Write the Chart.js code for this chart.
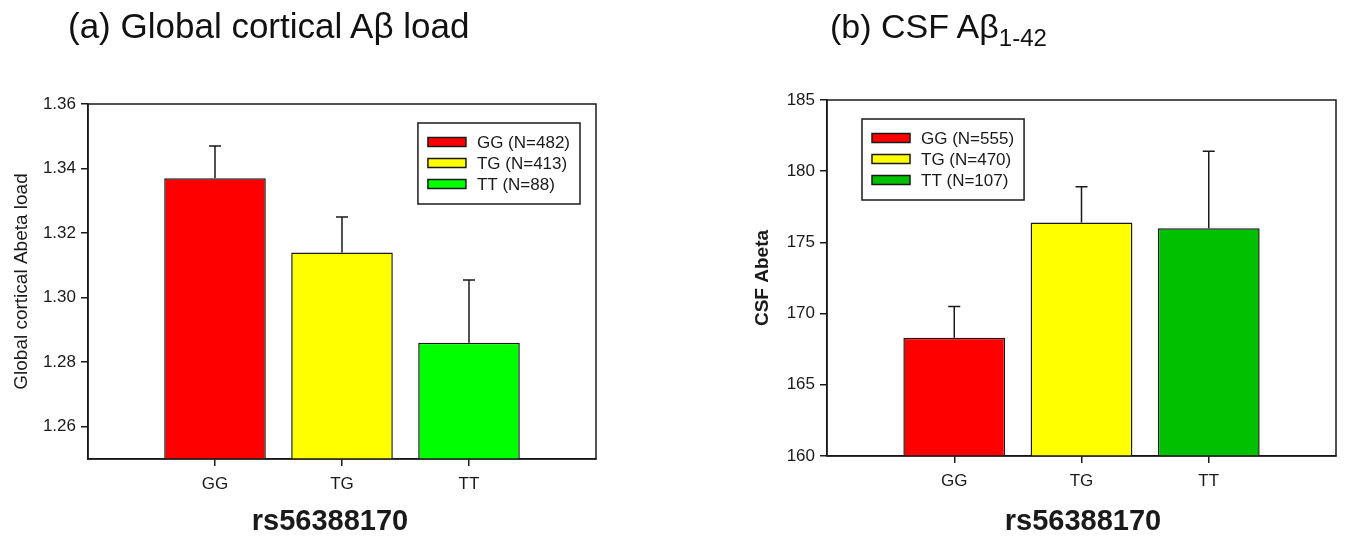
<!DOCTYPE html>
<html><head><meta charset="utf-8">
<script src="https://cdn.jsdelivr.net/npm/chart.js@4.4.0/dist/chart.umd.min.js"></script>
<style>
html,body{margin:0;padding:0;background:#fff;width:1346px;height:538px;overflow:hidden;font-family:"Liberation Sans",Arial,sans-serif;}
#wrapA{position:absolute;left:0;top:0;width:640px;height:538px;}
#wrapB{position:absolute;left:680px;top:0;width:666px;height:538px;}
.ttl{position:absolute;color:#111;white-space:nowrap;line-height:40px;}
#ttlA{left:68px;top:6px;font-size:35px;}
#ttlB{left:830px;top:6px;font-size:34px;}
.ttl sub{font-size:24px;vertical-align:-8px;line-height:0;}
.xt{position:absolute;width:300px;text-align:center;font-weight:bold;font-size:29px;line-height:34px;color:#1a1a1a;top:503px;}
#xtA{left:180px;}
#xtB{left:933px;}
</style></head>
<body>
<div id="wrapA"><canvas id="cA"></canvas></div>
<div id="wrapB"><canvas id="cB"></canvas></div>
<div class="ttl" id="ttlA">(a) Global cortical Aβ load</div>
<div class="ttl" id="ttlB">(b) CSF Aβ<sub>1-42</sub></div>
<div class="xt" id="xtA"></div>
<div class="xt" id="xtB"></div>
<script>
// ---- data ----
const genotypes = ['GG', 'TG', 'TT'];
const xPositions = [1, 2, 3];
const snpName = 'rs56388170';

const nA = [482, 413, 88];
const meanA = [1.337, 1.314, 1.286];
const semA = [0.010, 0.011, 0.0195];
const yTicksA = [1.26, 1.28, 1.30, 1.32, 1.34, 1.36];

const nB = [555, 470, 107];
const meanB = [168.3, 176.4, 176.0];
const semB = [2.2, 2.5, 5.4];
const yTicksB = [160, 165, 170, 175, 180, 185];

const colorsA = ['#ff0000', '#ffff00', '#00ff00'];
const colorsB = ['#ff0000', '#ffff00', '#00c000'];

const INK = '#1a1a1a';
const FONT = '"Liberation Sans", Arial, sans-serif';
Chart.defaults.font.family = FONT;
Chart.defaults.color = INK;

document.getElementById('xtA').textContent = snpName;
document.getElementById('xtB').textContent = snpName;

// ---- plugins ----
const frame = {
  id: 'frame',
  afterDatasetsDraw(chart) {
    const {ctx, chartArea: a} = chart;
    ctx.save();
    ctx.strokeStyle = INK; ctx.lineWidth = 1.5;
    ctx.strokeRect(a.left, a.top, a.right - a.left, a.bottom - a.top);
    ctx.restore();
  }
};

const errorBars = {
  id: 'errorBars',
  afterDatasetsDraw(chart) {
    const {ctx} = chart;
    const ys = chart.scales.y;
    chart.data.datasets.forEach((ds, di) => {
      const meta = chart.getDatasetMeta(di);
      meta.data.forEach((bar, i) => {
        const v = ds.data[i].y + ds.errorPlus[i];
        const yp = ys.getPixelForValue(v);
        ctx.save();
        ctx.strokeStyle = INK; ctx.lineWidth = 1.5;
        ctx.beginPath();
        ctx.moveTo(bar.x, bar.y); ctx.lineTo(bar.x, yp);
        ctx.moveTo(bar.x - 6, yp); ctx.lineTo(bar.x + 6, yp);
        ctx.stroke();
        ctx.restore();
      });
    });
  }
};

const boxLegend = {
  id: 'boxLegend',
  afterDraw(chart, args, o) {
    const {ctx, chartArea: a} = chart;
    const ds = chart.data.datasets[0];
    ctx.save();
    ctx.font = '17px ' + FONT;
    const labels = ds.legendLabels;
    const tw = Math.max(...labels.map(t => ctx.measureText(t).width));
    const w = 10 + 38 + 11 + tw + 10, h = 81;
    const x0 = o.anchor === 'right' ? a.right - o.dx - w : a.left + o.dx;
    const y0 = a.top + o.dy;
    ctx.fillStyle = '#fff';
    ctx.fillRect(x0, y0, w, h);
    ctx.strokeStyle = INK; ctx.lineWidth = 1.5;
    ctx.strokeRect(x0, y0, w, h);
    labels.forEach((t, i) => {
      const cy = y0 + 19 + i * 21;
      ctx.fillStyle = ds.backgroundColor[i];
      ctx.fillRect(x0 + 10, cy - 4.5, 38, 9);
      ctx.strokeRect(x0 + 10, cy - 4.5, 38, 9);
      ctx.fillStyle = INK;
      ctx.textBaseline = 'middle';
      ctx.textAlign = 'left';
      ctx.fillText(t, x0 + 59, cy + 1);
    });
    ctx.restore();
  }
};

function makeChart(id, means, sems, ns, colors, yMin, yMax, yTicks, yTitle, yTitleBold, decimals, pad, yWidth, yTitlePad, legendOpts, xHeight) {
  const data = means.map((m, i) => ({x: xPositions[i], y: m}));
  return new Chart(document.getElementById(id), {
    type: 'bar',
    data: {
      datasets: [{
        data,
        errorPlus: sems,
        legendLabels: genotypes.map((g, i) => g + ' (N=' + ns[i] + ')'),
        backgroundColor: colors,
        borderColor: INK,
        borderWidth: 1.5,
        borderSkipped: false,
        barPercentage: 0.8,
        categoryPercentage: 1.0
      }]
    },
    options: {
      responsive: true,
      maintainAspectRatio: false,
      animation: false,
      devicePixelRatio: 1,
      layout: {padding: pad},
      plugins: {
        legend: {display: false},
        tooltip: {enabled: false},
        boxLegend: legendOpts
      },
      scales: {
        x: {
          type: 'linear', min: 0, max: 4, offset: false,
          afterBuildTicks: s => { s.ticks = xPositions.map(v => ({value: v})); },
          ticks: {
            callback: v => genotypes[xPositions.indexOf(v)],
            font: {size: 17}, color: INK, padding: 8, autoSkip: false, maxRotation: 0
          },
          grid: {display: true, offset: false, drawOnChartArea: false, drawTicks: true, tickLength: 7, color: INK, lineWidth: 1.5},
          border: {display: true, color: INK, width: 1.5},
          afterFit: s => { s.height = xHeight; }
        },
        y: {
          min: yMin, max: yMax,
          afterBuildTicks: s => { s.ticks = yTicks.map(v => ({value: v})); },
          ticks: {font: {size: 17}, color: INK, padding: 5, callback: v => v.toFixed(decimals)},
          grid: {display: true, drawOnChartArea: false, drawTicks: true, tickLength: 7, color: INK, lineWidth: 1.5},
          border: {display: true, color: INK, width: 1.5},
          title: {display: true, text: yTitle, font: {size: 19, weight: yTitleBold ? 'bold' : 'normal'}, color: INK, padding: {top: yTitlePad, bottom: 0}},
          afterFit: s => { s.width = yWidth; }
        }
      }
    },
    plugins: [errorBars, frame, boxLegend]
  });
}

makeChart('cA', meanA, semA, nA, colorsA, 1.25, 1.36, yTicksA, 'Global cortical Abeta load', false, 2,
  {left: 0, top: 104, right: 44, bottom: 0}, 88, 10.5, {anchor: 'right', dx: 16, dy: 19}, 79);
makeChart('cB', meanB, semB, nB, colorsB, 160, 185, yTicksB, 'CSF Abeta', true, 0,
  {left: 60, top: 100, right: 10, bottom: 0}, 87, 11.6, {anchor: 'left', dx: 35, dy: 19}, 82);
</script>
</body></html>
